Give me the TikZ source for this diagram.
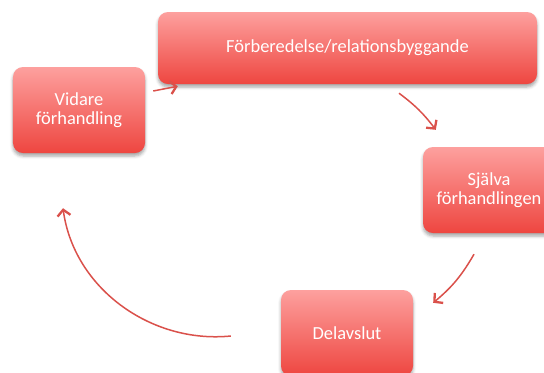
\documentclass[tikz,border=0pt]{standalone}
\usepackage{fontspec}
\setmainfont{Carlito}
\usetikzlibrary{arrows.meta,calc,shadows.blur}
\definecolor{boxtop}{HTML}{FDA09E}
\definecolor{boxbot}{HTML}{EE4640}
\definecolor{arrowred}{HTML}{DA514B}
\tikzset{
  stage/.style={rounded corners=10bp, top color=boxtop, bottom color=boxbot,
    text=white, align=center, inner sep=0pt,
    font=\fontsize{18.5}{19.5}\selectfont,
    blur shadow={shadow xshift=0bp, shadow yshift=-3bp, shadow blur radius=3bp,
      shadow opacity=35}},
  flow/.style={draw=arrowred, line width=1.5bp,
    -{Straight Barb[length=6bp,width=13bp,line width=2.3bp]}}
}
\begin{document}
\begin{tikzpicture}[x=1bp,y=-1bp]
  \useasboundingbox (0,0) rectangle (544,372);
  \clip (0,0) rectangle (544,372);
  \node[stage, minimum width=132bp, minimum height=86bp] (A) at (79,110)
    {Vidare\\förhandling};
  \node[stage, minimum width=379bp, minimum height=72bp] (B) at (347.5,48)
    {Förberedelse/relationsbyggande};
  \node[stage, minimum width=132bp, minimum height=86bp] (C) at (489,190)
    {Själva\\förhandlingen};
  \node[stage, minimum width=132bp, minimum height=86bp] (D) at (347,333)
    {Delavslut};
  % cycle of arrows
  \draw[flow] ($(A.east)+(8,-19)$) -- ($(B.south west)+(20,2)$);
  \draw[flow] ($(B.south)+(51.5,9)$) to[bend left=8] ($(C.north west)+(13,-17)$);
  \draw[flow] ($(C.south)+(-15,21)$) to[bend left=10] ($(D.north east)+(20,13)$);
  \draw[flow] ($(D.west)+(-50,3)$) .. controls ($(D.west)+(-130,11)$)
    and ($(A.south)+(-5,135)$) .. ($(A.south)+(-16,55)$);
\end{tikzpicture}
\end{document}
